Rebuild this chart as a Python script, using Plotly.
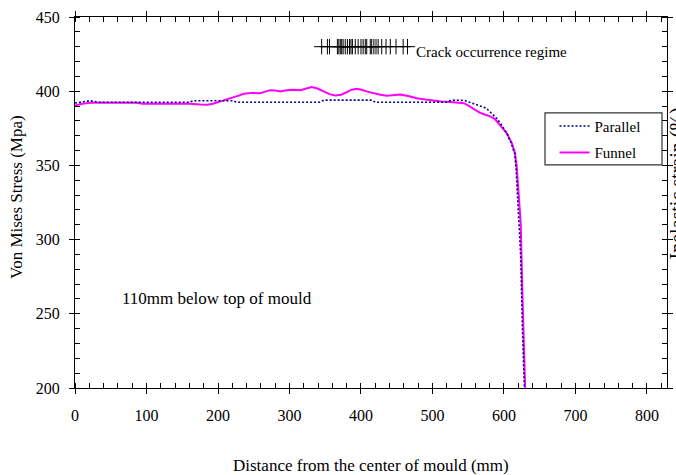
import plotly.graph_objects as go

# ---------------- data ----------------
parallel_x = [0, 10, 21, 32, 100, 160, 166, 221, 226, 300, 342, 348, 415, 420, 518, 524, 531, 545,
              552, 559, 566, 575, 580, 585, 590, 597, 604, 610, 615, 617, 618.6, 621.4, 623.4,
              625.6, 628.4, 629.5]
parallel_y = [392.0, 393.0, 393.6, 392.6, 392.6, 392.6, 393.6, 393.6, 392.6, 392.6, 392.6, 394.0,
              394.0, 392.6, 392.6, 393.5, 394.0, 393.7, 392.4, 391.5, 390.3, 388.6, 386.3, 384.2,
              381.6, 377.0, 371.5, 365.0, 358.0, 347.0, 333.4, 311.0, 288.4, 243.5, 198.5, 185.0]

funnel_x = [0, 10, 21, 50, 86, 95, 130, 160, 175, 185, 193, 203, 212, 221, 229, 236, 246, 259,
            266, 273, 280, 287, 296, 305, 315, 323, 331, 339, 347, 356, 364, 372, 380, 387, 394,
            401, 409, 417, 427, 436, 445, 455, 466, 478, 490, 501, 512, 525, 538, 544, 552, 559,
            566, 573, 580, 587, 594, 600, 604, 611, 615.4, 617.8, 619.2, 621.0, 623.4, 625.6,
            628.0, 629.4, 630.5]
funnel_y = [390.3, 391.5, 392.2, 392.3, 392.2, 391.6, 391.5, 391.6, 391.0, 390.8, 391.5, 393.0,
            394.2, 395.3, 397.0, 398.3, 398.8, 398.7, 399.8, 400.7, 400.4, 399.8, 400.6, 400.9,
            400.7, 402.0, 402.8, 401.8, 399.8, 398.0, 397.1, 397.6, 399.3, 401.0, 401.6, 401.0,
            399.7, 398.7, 397.6, 396.9, 397.3, 397.8, 396.8, 395.3, 394.4, 393.7, 393.0, 392.8,
            392.4, 391.9, 389.8, 387.4, 385.6, 384.3, 383.2, 381.4, 377.3, 374.0, 371.6, 365.0,
            358.2, 349.2, 338.0, 326.7, 311.0, 266.0, 221.0, 198.5, 185.0]

crack_x = [345, 353, 356, 367, 369, 371, 373, 375, 378, 381, 384, 386, 388, 392, 396, 400, 403,
           406, 408, 413, 415, 418, 421, 424, 429, 435, 441, 449, 459, 465]
crack_level = 430

x_range = [0, 828]
y_range = [200, 450]

FONT = "Liberation Serif, Times New Roman, serif"

fig = go.Figure()

fig.add_trace(go.Scatter(
    x=funnel_x, y=funnel_y, mode="lines", name="Funnel",
    line=dict(color="#FF00FF", width=2), legendgroup="f", legendrank=2))
fig.add_trace(go.Scatter(
    x=parallel_x, y=parallel_y, mode="lines", name="Parallel",
    line=dict(color="#000080", width=1.6, dash="2px,2px"), legendgroup="p", legendrank=1))
fig.add_trace(go.Scatter(
    x=crack_x, y=[crack_level] * len(crack_x), mode="markers", showlegend=False,
    marker=dict(symbol="cross-thin-open", size=11, color="black",
                line=dict(color="black", width=1))))
# dummy trace for overlay axes (inside major ticks)
fig.add_trace(go.Scatter(x=[None], y=[None], xaxis="x2", yaxis="y2",
                         showlegend=False, hoverinfo="skip"))

axis_common = dict(showline=True, linecolor="black", linewidth=1.2, mirror="ticks",
                   showgrid=False, zeroline=False, ticks="outside", ticklen=5,
                   tickcolor="black", tickwidth=1.2,
                   tickfont=dict(family=FONT, size=16, color="black"))

fig.update_layout(
    width=676, height=475,
    margin=dict(l=75, r=9, t=17, b=87, autoexpand=False),
    paper_bgcolor="white", plot_bgcolor="white",
    font=dict(family=FONT, color="black"),
    xaxis=dict(range=x_range, dtick=100, ticklabelstandoff=8,
               minor=dict(dtick=20, ticks="inside", ticklen=5, tickcolor="black", tickwidth=1),
               **axis_common),
    yaxis=dict(range=y_range, dtick=50, ticklabelstandoff=6,
               minor=dict(dtick=10, ticks="inside", ticklen=5, tickcolor="black", tickwidth=1),
               **axis_common),
    xaxis2=dict(overlaying="x", range=x_range, dtick=100, ticks="inside", ticklen=5,
                tickcolor="black", tickwidth=1.2, showticklabels=False, showline=False,
                showgrid=False, zeroline=False, mirror="ticks", anchor="y"),
    yaxis2=dict(overlaying="y", range=y_range, dtick=50, ticks="inside", ticklen=5,
                tickcolor="black", tickwidth=1.2, showticklabels=False, showline=False,
                showgrid=False, zeroline=False, mirror="ticks", anchor="x"),
    showlegend=True,
    legend=dict(x=0.81, y=0.75, xanchor="left", yanchor="top",
                bgcolor="rgba(0,0,0,0)", borderwidth=0,
                font=dict(family=FONT, size=15, color="black"),
                traceorder="grouped", tracegroupgap=4, itemwidth=30),
    shapes=[dict(type="rect", xref="paper", yref="paper",
                 x0=(545 - 75) / 592, x1=(662 - 75) / 592,
                 y0=1 - (165 - 17.3) / 370.4, y1=1 - (113 - 17.3) / 370.4,
                 line=dict(color="#333333", width=1.2), fillcolor="rgba(0,0,0,0)")],
    annotations=[
        dict(text="Distance from the center of mould (mm)", xref="paper", yref="paper",
             x=0.5, y=0, yshift=-77, showarrow=False, xanchor="center", yanchor="middle",
             font=dict(family=FONT, size=17)),
        dict(text="Von Mises Stress (Mpa)", xref="paper", yref="paper",
             x=0, xshift=-58, y=0.515, textangle=-90, showarrow=False,
             xanchor="center", yanchor="middle", font=dict(family=FONT, size=17)),
        dict(text="Inelastic strain (%)", xref="paper", yref="paper",
             x=1, xshift=-3, y=0.55, textangle=-90, showarrow=False,
             xanchor="left", yanchor="middle", font=dict(family=FONT, size=20)),
        dict(text="110mm below top of mould", xref="x", yref="y",
             x=63, y=260.6, showarrow=False, xanchor="left", yanchor="middle",
             font=dict(family=FONT, size=17)),
        dict(text="Crack occurrence regime", xref="x", yref="y",
             x=474, y=426.6, showarrow=False, xanchor="left", yanchor="middle",
             font=dict(family=FONT, size=15)),
    ],
)

fig.write_html("out.html")
